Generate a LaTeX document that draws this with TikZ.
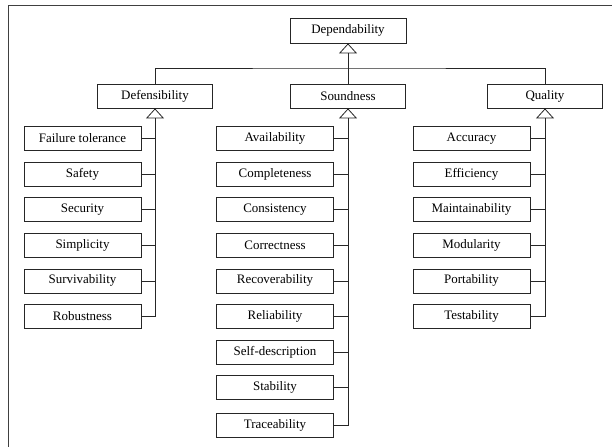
\documentclass[tikz,border=0pt]{standalone}
\usepackage{fontspec}
\setmainfont{Liberation Serif}
\usetikzlibrary{arrows.meta, positioning}

\begin{document}
\begin{tikzpicture}[
    x=1bp, y=-1bp,
    node distance=10.8bp,
    every node/.style={font=\fontsize{13}{15}\selectfont},
    category/.style={rectangle, draw=black!85, line width=0.8bp, minimum width=115bp, minimum height=24bp, inner sep=0pt},
    attr/.style={rectangle, draw=black!85, line width=0.8bp, minimum width=117bp, minimum height=24bp, inner sep=0pt},
    link/.style={draw=black!85, line width=0.8bp},
    inherit/.style={link, -{Triangle[open, width=18bp, length=10bp]}}
]
\useasboundingbox (0,0) rectangle (612,447);

% frame (only top and left sides show)
\draw[black!75, line width=0.9bp] (8,447) -- (8,5) -- (612,5);

% top levels
\node[category, minimum width=116bp, minimum height=25bp] (dep) at (348,30.5) {Dependability};
\node[category] (def) at (155,96) {Defensibility};
\node[category] (snd) at (348,96) {Soundness};
\node[category] (qua) at (545,96) {Quality};
\coordinate (bar) at (348,68);

\draw[link] (def.north) |- (bar) -| (qua.north);
\draw[link] (snd.north) -- (bar);
\draw[inherit] (bar) -- (dep.south);

% Defensibility
\node[attr] (fail) at (82.5,138.5) {Failure tolerance};
\node[attr, below=of fail] (safe) {Safety};
\node[attr, below=of safe] (secu) {Security};
\node[attr, below=of secu] (simp) {Simplicity};
\node[attr, below=of simp] (surv) {Survivability};
\node[attr, below=of surv] (robu) {Robustness};

\draw[inherit] (robu.east -| def.south) -- (def.south);
\draw[link] (fail.east) -- (fail.east -| def.south);
\draw[link] (safe.east) -- (safe.east -| def.south);
\draw[link] (secu.east) -- (secu.east -| def.south);
\draw[link] (simp.east) -- (simp.east -| def.south);
\draw[link] (surv.east) -- (surv.east -| def.south);
\draw[link] (robu.east) -- (robu.east -| def.south);

% Soundness
\node[attr] (avai) at (275,138.5) {Availability};
\node[attr, below=of avai] (comp) {Completeness};
\node[attr, below=of comp] (cons) {Consistency};
\node[attr, below=of cons] (corr) {Correctness};
\node[attr, below=of corr] (reco) {Recoverability};
\node[attr, below=of reco] (reli) {Reliability};
\node[attr, below=of reli] (self) {Self-description};
\node[attr, below=of self] (stab) {Stability};
\node[attr, below=13bp of stab] (trac) {Traceability};

\draw[inherit] (trac.east -| snd.south) -- (snd.south);
\draw[link] (avai.east) -- (avai.east -| snd.south);
\draw[link] (comp.east) -- (comp.east -| snd.south);
\draw[link] (cons.east) -- (cons.east -| snd.south);
\draw[link] (corr.east) -- (corr.east -| snd.south);
\draw[link] (reco.east) -- (reco.east -| snd.south);
\draw[link] (reli.east) -- (reli.east -| snd.south);
\draw[link] (self.east) -- (self.east -| snd.south);
\draw[link] (stab.east) -- (stab.east -| snd.south);
\draw[link] (trac.east) -- (trac.east -| snd.south);

% Quality
\node[attr] (accu) at (471.5,138.5) {Accuracy};
\node[attr, below=of accu] (effi) {Efficiency};
\node[attr, below=of effi] (main) {Maintainability};
\node[attr, below=of main] (modu) {Modularity};
\node[attr, below=of modu] (port) {Portability};
\node[attr, below=of port] (test) {Testability};

\draw[inherit] (test.east -| qua.south) -- (qua.south);
\draw[link] (accu.east) -- (accu.east -| qua.south);
\draw[link] (effi.east) -- (effi.east -| qua.south);
\draw[link] (main.east) -- (main.east -| qua.south);
\draw[link] (modu.east) -- (modu.east -| qua.south);
\draw[link] (port.east) -- (port.east -| qua.south);
\draw[link] (test.east) -- (test.east -| qua.south);

\end{tikzpicture}
\end{document}
